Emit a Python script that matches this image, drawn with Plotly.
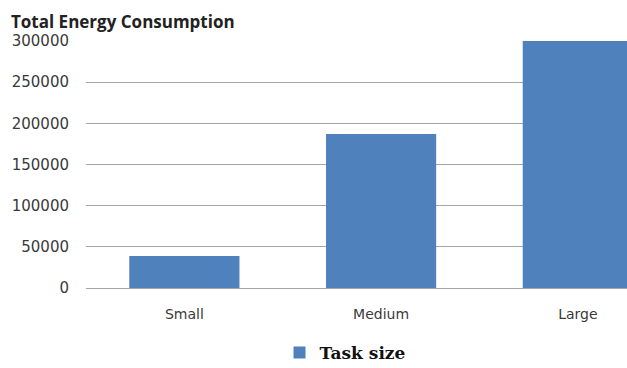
import plotly.graph_objects as go

categories = ["Small", "Medium", "Large"]
values = [39000, 187000, 300000]
series_name = "Task size"
y_ticks = [0, 50000, 100000, 150000, 200000, 250000, 300000]

fig = go.Figure()
fig.add_trace(go.Bar(
    x=categories, y=values, name=series_name,
    marker=dict(color="#4F81BD", line=dict(width=0)),
    width=0.56, showlegend=True,
))

fig.update_layout(
    width=627, height=368,
    margin=dict(l=86, r=0, t=41, b=80, autoexpand=False),
    paper_bgcolor="white", plot_bgcolor="white",
    title=dict(text="<b>Total Energy Consumption</b>", x=11/627, xanchor="left",
               y=1-22/368, yanchor="middle", xref="container", yref="container",
               font=dict(family="Open Sans, sans-serif", size=17, color="#222222")),
    xaxis=dict(range=[-0.5, 2.25], showgrid=False, showline=False, zeroline=False,
               tickfont=dict(family="DejaVu Sans, sans-serif", size=14, color="#3a3a3a"),
               ticks="", ticklabelstandoff=16, fixedrange=True, automargin=False),
    yaxis=dict(range=[0, 300000], tickvals=y_ticks, ticktext=[str(v) for v in y_ticks],
               showgrid=True, gridcolor="#A6A6A6", gridwidth=1.2, zeroline=True,
               zerolinecolor="#A6A6A6", zerolinewidth=1.2, showline=False,
               tickfont=dict(family="DejaVu Sans, sans-serif", size=15, color="#3a3a3a"),
               ticks="", ticklabelstandoff=16, fixedrange=True, automargin=False),
    legend=dict(orientation="h", x=(345-86)/541, xanchor="center",
                y=-(353-288)/247, yanchor="middle",
                font=dict(family="DejaVu Serif, serif", size=17, color="#111111", weight="bold"),
                itemwidth=30),
    bargap=0.44,
)

fig.write_html("out.html")
